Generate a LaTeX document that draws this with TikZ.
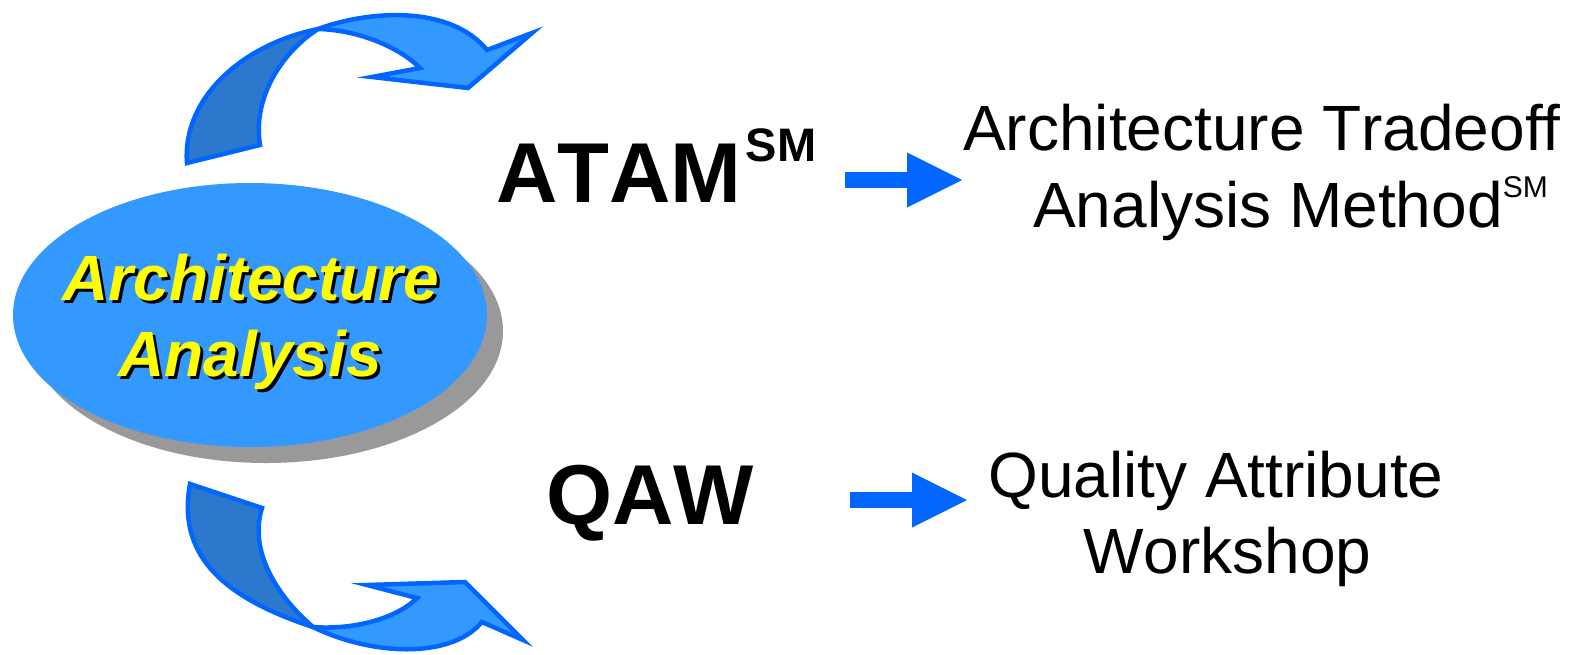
\documentclass[tikz,border=0pt]{standalone}
\usepackage{fontspec}
\setmainfont{Liberation Sans}[Kerning=Off]
\usepackage{tikz}
\usetikzlibrary{shapes.geometric, arrows.meta}
\definecolor{hubblue}{RGB}{51,153,255}
\definecolor{foldblue}{RGB}{43,120,204}
\definecolor{edgeblue}{RGB}{0,102,255}
\definecolor{shadegray}{RGB}{153,153,153}
\definecolor{hubyellow}{RGB}{255,255,0}

\begin{document}
\begin{tikzpicture}[x=1pt, y=-1pt,
    ribbon/.style={draw=edgeblue, line width=4.5pt, line join=miter},
    hubtext/.style={inner sep=0pt, anchor=base, font=\fontsize{64}{64}\selectfont\bfseries\itshape},
    bigtext/.style={inner sep=0pt, anchor=base west, font=\fontsize{85}{85}\selectfont\bfseries},
    longtext/.style={inner sep=0pt, anchor=base west, font=\fontsize{64}{64}\selectfont},
    blockarrow/.style={draw=edgeblue, line width=16pt, -{Triangle[length=55pt, width=55pt, line width=0pt]}}]
      \useasboundingbox (0,0) rectangle (1572,654);

      \filldraw[ribbon, fill=foldblue] (187,163) .. controls (182,100) and (240,45) .. (318,29)
        .. controls (285,50) and (252,95) .. (260,145) -- cycle;
      \filldraw[ribbon, fill=hubblue] (318,29) .. controls (370,10) and (450,5) .. (487,50)
        -- (532,33) -- (468,88) -- (372,77) -- (420,68)
        .. controls (400,48) and (360,30) .. (318,29) -- cycle;

      \filldraw[ribbon, fill=foldblue] (190,484) .. controls (178,550) and (215,595) .. (313,627)
        .. controls (270,590) and (250,545) .. (262,508) -- cycle;
      \filldraw[ribbon, fill=hubblue] (313,627) .. controls (370,655) and (450,660) .. (482,622)
        -- (523,640) -- (465,582) -- (367,585) -- (417,598)
        .. controls (395,620) and (350,630) .. (313,627) -- cycle;

      \node (hubshade) [ellipse, fill=shadegray, inner sep=0pt, minimum width=474pt, minimum height=264pt] at (266,331) {};
      \node (hub) [ellipse, fill=hubblue, inner sep=0pt, minimum width=474pt, minimum height=264pt] at (250,315) {};

      \node (hubtopshade) [hubtext, black] at (254,303) {Architecture};
      \node (hubtop) [hubtext, hubyellow] at (251,300) {Architecture};
      \node (hubbotshade) [hubtext, black] at (253,379) {Analysis};
      \node (hubbot) [hubtext, hubyellow] at (250,376) {Analysis};

      \node (atam) [bigtext] at (496,202) {ATAM\hspace{4pt}\raisebox{41pt}{\fontsize{47}{47}\selectfont SM}};
      \node (qaw) [bigtext] at (546,524) {QAW};

      \node (atamname) [longtext] at (963,150) {Architecture Tradeoff};
      \node (atammethod) [longtext] at (1033,227) {Analysis Method\raisebox{30pt}{\fontsize{30}{30}\selectfont SM}};
      \node (qawname) [longtext] at (988,497) {Quality Attribute};
      \node (qawwork) [longtext] at (1083,573) {Workshop};

      \coordinate (atamtail) at (845,180);
      \coordinate (atamtip) at (962,180);
      \coordinate (qawtail) at (850,500);
      \coordinate (qawtip) at (967,500);

      \draw[blockarrow] (atamtail) -- (atamtip);
      \draw[blockarrow] (qawtail) -- (qawtip);
    \end{tikzpicture}
\end{document}
